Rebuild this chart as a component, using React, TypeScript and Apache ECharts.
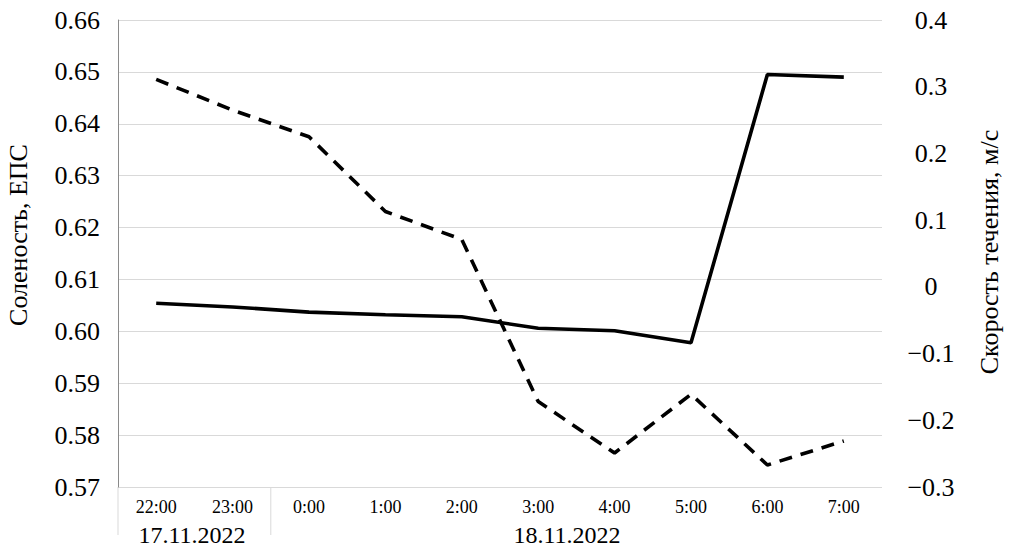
import React, { useEffect, useRef } from "react";
import * as echarts from "echarts";

const hours = ["22:00", "23:00", "0:00", "1:00", "2:00", "3:00", "4:00", "5:00", "6:00", "7:00"];
const dates = ["17.11.2022", "18.11.2022"];
const salinity = [0.6054, 0.6047, 0.6037, 0.6032, 0.6028, 0.6006, 0.6001, 0.5978, 0.6495, 0.649];
const velocity = [0.311, 0.265, 0.225, 0.113, 0.071, -0.172, -0.249, -0.161, -0.267, -0.231];
const leftTitle = "Соленость, ЕПС";
const rightTitle = "Скорость течения, м/с";

const FONT = "'Liberation Serif', 'Times New Roman', serif";

export default function App() {
  const ref = useRef<HTMLDivElement>(null);
  useEffect(() => {
    if (!ref.current) return;
    const chart = echarts.init(ref.current, null, { renderer: "svg" });
    const option: any = {
      animation: false,
      backgroundColor: "#ffffff",
      grid: { left: 118, right: 133, top: 20, bottom: 68, containLabel: false },
      xAxis: {
        type: "category",
        data: hours,
        boundaryGap: true,
        axisLine: { show: false },
        axisTick: { show: false },
        axisLabel: { color: "#000", fontFamily: FONT, fontSize: 18, margin: 11 },
      },
      yAxis: [
        {
          type: "value",
          min: 0.57,
          max: 0.66,
          interval: 0.01,
          position: "left",
          axisLine: { show: true, lineStyle: { color: "#8a8a8a", width: 1 } },
          axisTick: { show: false },
          splitLine: { show: true, lineStyle: { color: "#d9d9d9", width: 1 } },
          axisLabel: {
            color: "#000",
            fontFamily: FONT,
            fontSize: 26,
            margin: 18,
            formatter: (v: number) => v.toFixed(2),
          },
        },
        {
          type: "value",
          min: -0.3,
          max: 0.4,
          interval: 0.1,
          position: "right",
          axisLine: { show: false },
          axisTick: { show: false },
          splitLine: { show: false },
          axisLabel: {
            color: "#000",
            fontFamily: FONT,
            fontSize: 26,
            margin: 49,
            align: "center",
            padding: [6, 0, 0, 0],
            formatter: (v: number) =>
              Math.abs(v) < 1e-9 ? "0" : v < 0 ? "\u2212" + Math.abs(v).toFixed(1) : v.toFixed(1),
          },
        },
      ],
      series: [
        {
          name: leftTitle,
          type: "line",
          yAxisIndex: 0,
          data: salinity,
          showSymbol: false,
          symbol: "none",
          lineStyle: { color: "#000", width: 3.6, type: "solid" },
          z: 3,
        },
        {
          name: rightTitle,
          type: "line",
          yAxisIndex: 1,
          data: velocity,
          showSymbol: false,
          symbol: "none",
          lineStyle: { color: "#000", width: 3.6, type: [13, 9] },
          z: 2,
        },
      ],
    };
    chart.setOption(option);

    const p1 = chart.convertToPixel({ xAxisIndex: 0 }, 1) as number;
    const p2 = chart.convertToPixel({ xAxisIndex: 0 }, 2) as number;
    const p0 = chart.convertToPixel({ xAxisIndex: 0 }, 0) as number;
    const band = p1 - p0;
    const leftEdge = p0 - band / 2;
    const sep = (p1 + p2) / 2;
    const yBottom = chart.convertToPixel({ yAxisIndex: 0 }, 0.57) as number;

    chart.setOption({
      graphic: [
        {
          type: "line",
          shape: { x1: leftEdge, y1: yBottom, x2: leftEdge, y2: yBottom + 48 },
          style: { stroke: "#d9d9d9", lineWidth: 1 },
        },
        {
          type: "line",
          shape: { x1: sep, y1: yBottom, x2: sep, y2: yBottom + 48 },
          style: { stroke: "#d9d9d9", lineWidth: 1 },
        },
        {
          type: "text",
          x: 192,
          y: 535,
          style: { text: dates[0], fill: "#000", font: `24px ${FONT}`, textAlign: "center", textVerticalAlign: "middle" },
        },
        {
          type: "text",
          x: 567,
          y: 535,
          style: { text: dates[1], fill: "#000", font: `24px ${FONT}`, textAlign: "center", textVerticalAlign: "middle" },
        },
        {
          type: "text",
          x: 18,
          y: 235,
          rotation: Math.PI / 2,
          style: { text: leftTitle, fill: "#000", font: `26px ${FONT}`, textAlign: "center", textVerticalAlign: "middle" },
        },
        {
          type: "text",
          x: 989,
          y: 252,
          rotation: Math.PI / 2,
          style: { text: rightTitle, fill: "#000", font: `26px ${FONT}`, textAlign: "center", textVerticalAlign: "middle" },
        },
      ],
    });

    return () => chart.dispose();
  }, []);
  return <div ref={ref} style={{ width: 1015, height: 555, position: "absolute", left: 0, top: 0 }} />;
}
